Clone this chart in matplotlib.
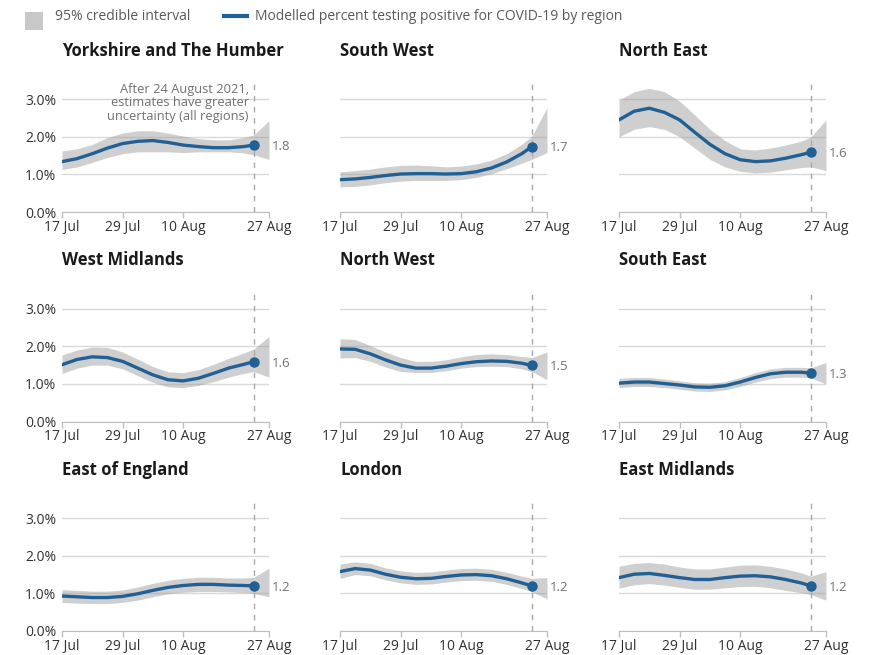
import matplotlib
matplotlib.use("Agg")
import matplotlib.pyplot as plt
from matplotlib.patches import Rectangle
from matplotlib.lines import Line2D

plt.rcParams['font.family'] = ['Open Sans', 'DejaVu Sans']

# days since 17 Jul 2021
line_days = [0, 3, 6, 9, 12, 15, 18, 21, 24, 27, 30, 33, 36, 38]
band_days = [0, 3, 6, 9, 12, 15, 18, 21, 24, 27, 30, 33, 36, 38, 41]
tick_days = [0, 12, 24, 41]
tick_labels = ["17 Jul", "29 Jul", "10 Aug", "27 Aug"]

regions = ["Yorkshire and The Humber", "South West", "North East",
           "West Midlands", "North West", "South East",
           "East of England", "London", "East Midlands"]

yorks_mid = [1.34, 1.42, 1.55, 1.70, 1.82, 1.88, 1.90, 1.85, 1.78, 1.74, 1.71, 1.71, 1.74, 1.78]
yorks_lo = [1.13, 1.20, 1.32, 1.45, 1.55, 1.60, 1.60, 1.60, 1.58, 1.60, 1.60, 1.60, 1.57, 1.52, 1.40]
yorks_hi = [1.62, 1.68, 1.80, 1.98, 2.10, 2.16, 2.16, 2.10, 2.02, 1.95, 1.92, 1.92, 1.98, 2.05, 2.43]

sw_mid = [0.86, 0.88, 0.92, 0.97, 1.01, 1.02, 1.02, 1.01, 1.02, 1.07, 1.17, 1.33, 1.55, 1.74]
sw_lo = [0.67, 0.68, 0.72, 0.78, 0.82, 0.84, 0.84, 0.84, 0.86, 0.92, 1.02, 1.15, 1.30, 1.40, 1.58]
sw_hi = [1.07, 1.10, 1.14, 1.20, 1.24, 1.25, 1.23, 1.20, 1.22, 1.28, 1.38, 1.55, 1.80, 2.02, 2.78]

ne_mid = [2.45, 2.68, 2.76, 2.65, 2.45, 2.12, 1.80, 1.55, 1.39, 1.34, 1.36, 1.43, 1.52, 1.59]
ne_lo = [2.00, 2.20, 2.27, 2.20, 2.00, 1.70, 1.40, 1.20, 1.08, 1.04, 1.06, 1.12, 1.18, 1.20, 1.10]
ne_hi = [2.98, 3.20, 3.29, 3.20, 2.95, 2.58, 2.20, 1.90, 1.68, 1.65, 1.70, 1.78, 1.88, 2.00, 2.45]

wm_mid = [1.51, 1.65, 1.72, 1.70, 1.60, 1.42, 1.24, 1.11, 1.08, 1.15, 1.28, 1.42, 1.52, 1.59]
wm_lo = [1.28, 1.42, 1.50, 1.50, 1.40, 1.22, 1.04, 0.92, 0.90, 0.96, 1.06, 1.18, 1.28, 1.33, 1.18]
wm_hi = [1.77, 1.90, 1.98, 1.97, 1.85, 1.66, 1.46, 1.32, 1.30, 1.38, 1.52, 1.68, 1.82, 1.93, 2.26]

nw_mid = [1.93, 1.92, 1.80, 1.64, 1.50, 1.42, 1.42, 1.47, 1.54, 1.59, 1.61, 1.60, 1.55, 1.49]
nw_lo = [1.69, 1.70, 1.60, 1.45, 1.33, 1.30, 1.30, 1.35, 1.42, 1.46, 1.47, 1.46, 1.40, 1.33, 1.11]
nw_hi = [2.20, 2.18, 2.02, 1.85, 1.70, 1.60, 1.60, 1.64, 1.72, 1.78, 1.80, 1.78, 1.73, 1.70, 1.85]

se_mid = [1.02, 1.05, 1.05, 1.01, 0.97, 0.92, 0.91, 0.95, 1.05, 1.17, 1.27, 1.31, 1.31, 1.29]
se_lo = [0.90, 0.93, 0.93, 0.90, 0.86, 0.81, 0.80, 0.84, 0.93, 1.05, 1.14, 1.18, 1.18, 1.16, 1.00]
se_hi = [1.15, 1.17, 1.17, 1.13, 1.08, 1.03, 1.02, 1.06, 1.17, 1.30, 1.40, 1.44, 1.44, 1.43, 1.57]

eoe_mid = [0.93, 0.91, 0.89, 0.89, 0.92, 0.99, 1.08, 1.16, 1.21, 1.24, 1.24, 1.22, 1.21, 1.20]
eoe_lo = [0.76, 0.74, 0.73, 0.73, 0.76, 0.82, 0.91, 0.99, 1.03, 1.05, 1.05, 1.04, 1.02, 1.00, 0.91]
eoe_hi = [1.10, 1.08, 1.06, 1.06, 1.09, 1.17, 1.27, 1.35, 1.40, 1.43, 1.43, 1.41, 1.41, 1.43, 1.67]

lon_mid = [1.58, 1.66, 1.62, 1.51, 1.43, 1.39, 1.40, 1.45, 1.49, 1.50, 1.47, 1.39, 1.28, 1.20]
lon_lo = [1.40, 1.50, 1.47, 1.36, 1.28, 1.24, 1.25, 1.30, 1.34, 1.35, 1.32, 1.24, 1.13, 1.05, 0.85]
lon_hi = [1.78, 1.84, 1.80, 1.68, 1.60, 1.56, 1.57, 1.62, 1.66, 1.67, 1.64, 1.56, 1.46, 1.40, 1.42]

em_mid = [1.42, 1.51, 1.53, 1.48, 1.42, 1.37, 1.37, 1.42, 1.46, 1.47, 1.44, 1.37, 1.28, 1.20]
em_lo = [1.14, 1.23, 1.26, 1.22, 1.16, 1.11, 1.11, 1.15, 1.18, 1.19, 1.15, 1.08, 1.02, 0.97, 0.82]
em_hi = [1.72, 1.80, 1.82, 1.78, 1.70, 1.65, 1.65, 1.70, 1.75, 1.76, 1.72, 1.65, 1.55, 1.46, 1.58]

end_labels = ["1.8", "1.7", "1.6", "1.6", "1.5", "1.3", "1.2", "1.2", "1.2"]

mids = [yorks_mid, sw_mid, ne_mid, wm_mid, nw_mid, se_mid, eoe_mid, lon_mid, em_mid]
los = [yorks_lo, sw_lo, ne_lo, wm_lo, nw_lo, se_lo, eoe_lo, lon_lo, em_lo]
his = [yorks_hi, sw_hi, ne_hi, wm_hi, nw_hi, se_hi, eoe_hi, lon_hi, em_hi]

BLUE = "#206095"
GREY_TXT = "#707071"
DARK = "#323132"

W, H = 872, 655
fig = plt.figure(figsize=(W / 100, H / 100), dpi=100)

lefts = [62, 340, 619]
bottoms = [212, 421.5, 631]
aw, ah = 207, 131.6

for i, name in enumerate(regions):
	r, c = divmod(i, 3)
	ax = fig.add_axes([lefts[c] / W, 1 - bottoms[r] / H, aw / W, ah / H])
	# semi-transparent band so the gridlines show through
	ax.fill_between(band_days, los[i], his[i], color="#9c9c9c", alpha=0.48, lw=0, zorder=1)
	ax.axvline(38, color="#a8a8a8", lw=1, ls=(0, (4, 4)), zorder=2)
	ax.plot(line_days, mids[i], color=BLUE, lw=2.4, solid_capstyle="round", zorder=3)
	ax.plot(line_days[-1], mids[i][-1], "o", color=BLUE, ms=6.5, zorder=4)
	ax.annotate(end_labels[i], xy=(line_days[-1], mids[i][-1]), xytext=(13, -1),
		textcoords="offset points", va="center", ha="left", fontsize=9.5, color=GREY_TXT)
	ax.set_xlim(0, 41)
	ax.set_ylim(0, 3.5)
	ax.set_yticks([0, 1, 2, 3])
	ax.grid(axis="y", color="#d9d9d9", lw=1)
	ax.set_axisbelow(True)
	ax.set_xticks(tick_days)
	ax.set_xticklabels(tick_labels)
	ax.tick_params(axis="x", length=4, width=1, color="#bfbfbf", pad=1.5, labelsize=10, labelcolor=DARK)
	ax.tick_params(axis="y", length=0, pad=4, labelsize=10, labelcolor=DARK)
	if c == 0:
		ax.set_yticklabels(["0.0%", "1.0%", "2.0%", "3.0%"])
	else:
		ax.set_yticklabels([])
	for s in ["top", "right", "left"]:
		ax.spines[s].set_visible(False)
	ax.spines["bottom"].set_color("#bfbfbf")
	ax.spines["bottom"].set_zorder(0)
	ax.text(0, 1.225, name, transform=ax.transAxes, fontsize=12, fontweight="bold",
		color="#1a1a1a", ha="left", va="center")
	if i == 0:
		ax.text(37, 2.9, "After 24 August 2021,\nestimates have greater\nuncertainty (all regions)",
			ha="right", va="center", fontsize=9.3, color=GREY_TXT, linespacing=1.03)

# legend row
fig.patches.append(Rectangle((25 / W, 1 - 30 / H), 18 / W, 18 / H, transform=fig.transFigure,
	facecolor="#c8c8c8", edgecolor="none"))
fig.text(55 / W, 1 - 17 / H, "95% credible interval", fontsize=10, color="#595959", va="center")
fig.lines.append(Line2D([224 / W, 247 / W], [1 - 15.5 / H, 1 - 15.5 / H], transform=fig.transFigure,
	color=BLUE, lw=3))
fig.text(255 / W, 1 - 17 / H, "Modelled percent testing positive for COVID-19 by region",
	fontsize=10, color="#595959", va="center")

fig.savefig("out.png", dpi=100)
